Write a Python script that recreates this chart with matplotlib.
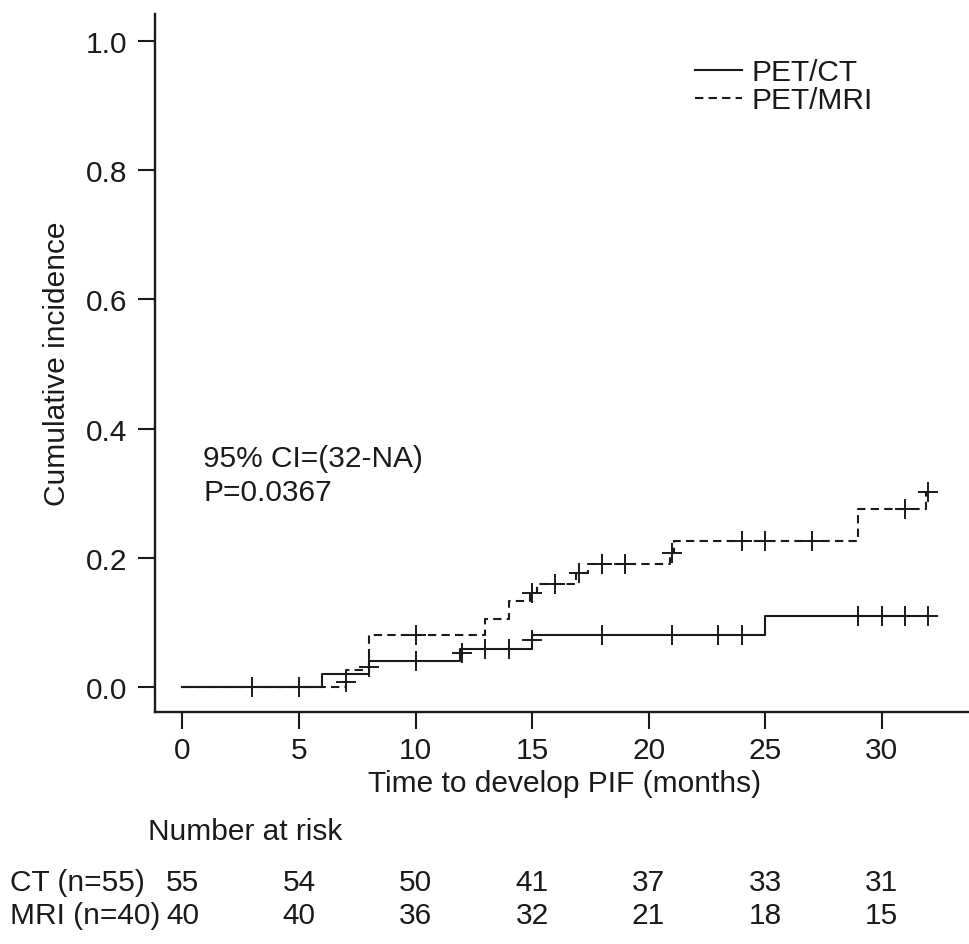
import matplotlib
matplotlib.use("Agg")
import matplotlib.pyplot as plt
import matplotlib.transforms as mtransforms
import numpy as np

plt.rcParams['font.family'] = ['Liberation Sans', 'DejaVu Sans']

# ---- data ----
ct_times = [0, 6, 8, 11.9, 15, 25, 32]
ct_levels = [0.0, 0.020, 0.040, 0.059, 0.080, 0.110, 0.110]
ct_cens_t = [3, 5, 8, 10, 12, 13, 14, 15, 18, 21, 23, 24, 29, 30, 31, 32]
ct_cens_y = [0.0, 0.0, 0.031, 0.040, 0.052, 0.059, 0.059, 0.072, 0.080, 0.080,
             0.080, 0.080, 0.110, 0.110, 0.110, 0.110]

mri_times = [0, 7, 8, 13, 14, 14.9, 15.2, 16.9, 17.4, 20.9, 21.1, 29, 31.9, 32]
mri_levels = [0.0, 0.026, 0.080, 0.105, 0.133, 0.146, 0.160, 0.176, 0.190,
              0.208, 0.226, 0.275, 0.302, 0.302]
mri_cens_t = [7, 10, 15, 16, 17, 18, 19, 21, 24, 25, 27, 31, 32]
mri_cens_y = [0.008, 0.080, 0.145, 0.160, 0.176, 0.190, 0.190, 0.208, 0.226,
              0.226, 0.226, 0.275, 0.302]

risk_times = [0, 5, 10, 15, 20, 25, 30]
ct_risk = [55, 54, 50, 41, 37, 33, 31]
mri_risk = [40, 40, 36, 32, 21, 18, 15]

x_ticks = [0, 5, 10, 15, 20, 25, 30]
y_ticks = [0.0, 0.2, 0.4, 0.6, 0.8, 1.0]

# ---- figure ----
W, H = 969, 945
fig = plt.figure(figsize=(W / 100, H / 100), dpi=100)
ax = fig.add_axes([155 / W, (H - 713) / H, (969 - 155) / W, (713 - 15) / H])

col = '#1a1a1a'
fs = 21.5
lw = 1.5

ax.step(ct_times, ct_levels, where='post', color=col, lw=lw, label='PET/CT')
ax.step(mri_times, mri_levels, where='post', color=col, lw=lw,
        linestyle=(0, (4, 2.5)), label='PET/MRI')
ax.plot(ct_cens_t, ct_cens_y, linestyle='none', marker='+', ms=14, mew=1.4, color=col)
ax.plot(mri_cens_t, mri_cens_y, linestyle='none', marker='+', ms=14, mew=1.4, color=col)

ax.set_xlim(-1.18, 33.75)
ax.set_ylim(-0.039, 1.042)
ax.set_xticks(x_ticks)
ax.set_yticks(y_ticks)
ax.set_yticklabels([f"{v:.1f}" for v in y_ticks])
ax.tick_params(axis='both', direction='out', length=12, width=1.5, color=col,
               labelsize=fs, labelcolor=col)
ax.tick_params(axis='x', pad=5)
ax.tick_params(axis='y', pad=8)
for s in ['top', 'right']:
    ax.spines[s].set_visible(False)
for s in ['left', 'bottom']:
    ax.spines[s].set_linewidth(1.7)
    ax.spines[s].set_color(col)

ax.set_ylabel('Cumulative incidence', fontsize=fs, color=col)
ax.yaxis.set_label_coords(-0.1035, 0.5)

leg = ax.legend(loc='upper left', bbox_to_anchor=((695 - 155) / 814, (713 - 59) / 698),
                frameon=False, fontsize=fs, handlelength=1.57, handletextpad=0.33,
                labelspacing=0.0, borderpad=0, borderaxespad=0)
for t in leg.get_texts():
    t.set_color(col)

ax.text(0.9, 0.354, '95% CI=(32-NA)', fontsize=fs, color=col, va='center', ha='left')
ax.text(0.9, 0.302, 'P=0.0367', fontsize=fs, color=col, va='center', ha='left')

# x label and risk table
trans = mtransforms.blended_transform_factory(ax.transData, fig.transFigure)
fig.text(565 / W, 1 - 784 / H, 'Time to develop PIF (months)', fontsize=fs,
         color=col, ha='center', va='center')
fig.text(148 / W, 1 - 832 / H, 'Number at risk', fontsize=fs, color=col,
         ha='left', va='center')
fig.text(10 / W, 1 - 883 / H, 'CT (n=55)', fontsize=fs, color=col, ha='left', va='center')
fig.text(10 / W, 1 - 916 / H, 'MRI (n=40)', fontsize=fs, color=col, ha='left', va='center')
for t, a, b in zip(risk_times, ct_risk, mri_risk):
    ax.text(t, 1 - 883 / H, str(a), transform=trans, fontsize=fs, color=col,
            ha='center', va='center')
    ax.text(t, 1 - 916 / H, str(b), transform=trans, fontsize=fs, color=col,
            ha='center', va='center')

fig.savefig('out.png', dpi=100)
